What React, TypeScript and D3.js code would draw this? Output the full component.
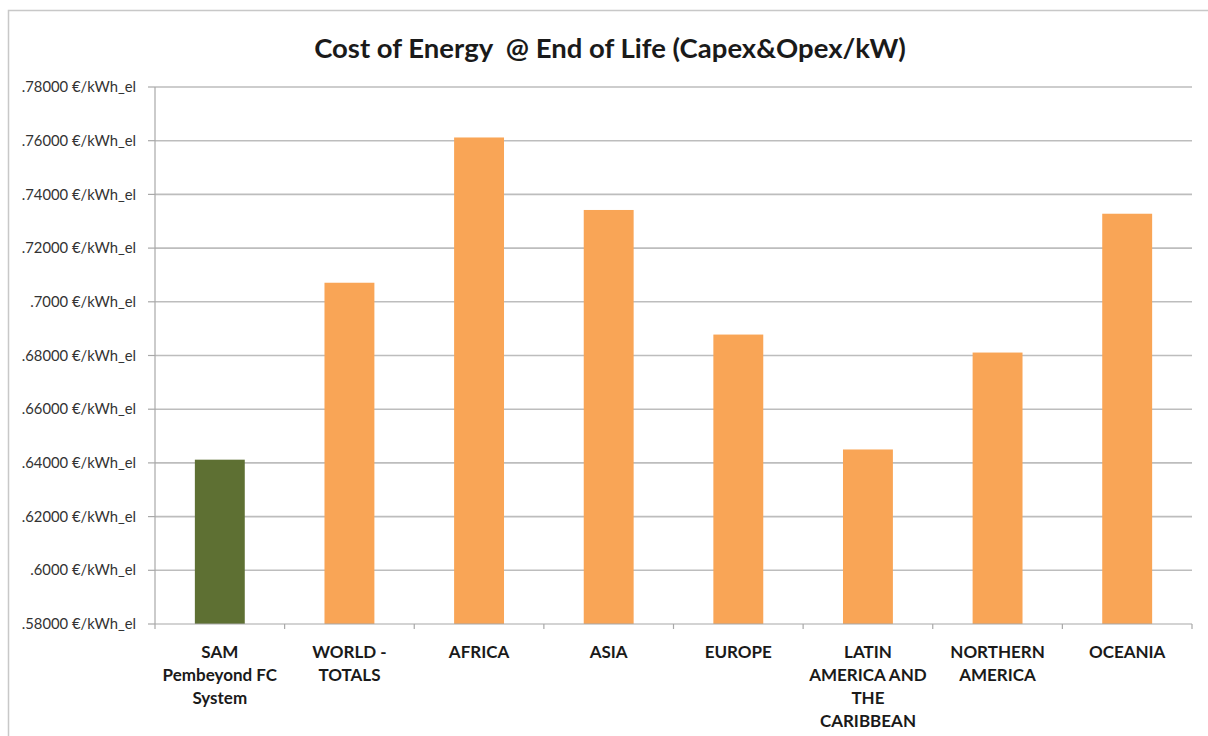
import React from "react";
import * as d3 from "d3";

const categories: string[][] = [
  ["SAM", "Pembeyond FC", "System"],
  ["WORLD -", "TOTALS"],
  ["AFRICA"],
  ["ASIA"],
  ["EUROPE"],
  ["LATIN", "AMERICA AND", "THE", "CARIBBEAN"],
  ["NORTHERN", "AMERICA"],
  ["OCEANIA"],
];
const values: number[] = [0.6412, 0.7071, 0.7612, 0.7342, 0.6878, 0.645, 0.6811, 0.7328];
const barColors: string[] = ["#5E7033", "#F9A556", "#F9A556", "#F9A556", "#F9A556", "#F9A556", "#F9A556", "#F9A556"];
const tickValues: number[] = [0.58, 0.6, 0.62, 0.64, 0.66, 0.68, 0.7, 0.72, 0.74, 0.76, 0.78];
const tickLabels: string[] = [
  ".58000 €/kWh_el", ".6000 €/kWh_el", ".62000 €/kWh_el", ".64000 €/kWh_el", ".66000 €/kWh_el",
  ".68000 €/kWh_el", ".7000 €/kWh_el", ".72000 €/kWh_el", ".74000 €/kWh_el", ".76000 €/kWh_el", ".78000 €/kWh_el",
];
const title = "Cost of Energy  @ End of Life (Capex&Opex/kW)";

export default function App() {
  const W = 1208, H = 736;
  const left = 155, right = 1192, top = 87, bottom = 624;
  const x = d3.scaleBand<number>().domain(d3.range(categories.length)).range([left, right]).paddingInner(0.615).paddingOuter(0.3075);
  const xb = d3.scaleBand<number>().domain(d3.range(categories.length)).range([left, right]);
  const y = d3.scaleLinear().domain([0.58, 0.78]).range([bottom, top]);
  const font = "Lato, 'Open Sans', sans-serif";
  return (
    <svg width={W} height={H} style={{ position: "absolute", left: 0, top: 0, background: "#fff" }}>
      <rect x={8.5} y={10.5} width={W + 10} height={H + 10} fill="#fff" stroke="#C8C8C8" strokeWidth={1.5} />
      <text x={610} y={58} textAnchor="middle" fontFamily={font} fontWeight="bold" fontSize={27.5} fill="#1a1a1a" style={{ whiteSpace: "pre" }}>
        {title}
      </text>
      {tickValues.map((v, i) => (
        <g key={i}>
          {i > 0 && <line x1={left} x2={right} y1={y(v)} y2={y(v)} stroke="#BDBDBD" strokeWidth={1.6} />}
          <line x1={left - 7} x2={left} y1={y(v)} y2={y(v)} stroke="#A8A8A8" strokeWidth={1.2} />
          <text x={136} y={y(v)} dy="0.35em" textAnchor="end" fontFamily={font} fontSize={14.8} fill="#333">
            {tickLabels[i]}
          </text>
        </g>
      ))}
      {values.map((v, i) => (
        <rect key={i} x={x(i)} y={y(v)} width={x.bandwidth()} height={bottom - y(v)} fill={barColors[i]} />
      ))}
      <line x1={left} x2={left} y1={top} y2={bottom} stroke="#A8A8A8" strokeWidth={1.2} />
      <line x1={left} x2={right} y1={bottom} y2={bottom} stroke="#A8A8A8" strokeWidth={1.2} />
      {d3.range(categories.length + 1).map((i) => {
        const px = i < categories.length ? (xb(i) as number) : right;
        return <line key={i} x1={px} x2={px} y1={bottom} y2={bottom + 5} stroke="#A8A8A8" strokeWidth={1.2} />;
      })}
      {categories.map((lines, i) => (
        <text key={i} textAnchor="middle" fontFamily={font} fontWeight="bold" fontSize={17} fill="#1a1a1a">
          {lines.map((l, j) => (
            <tspan key={j} x={(xb(i) as number) + xb.bandwidth() / 2} y={658 + j * 23}>
              {l}
            </tspan>
          ))}
        </text>
      ))}
    </svg>
  );
}
